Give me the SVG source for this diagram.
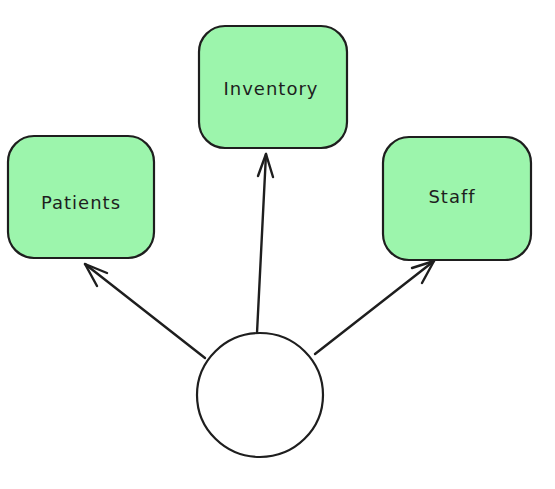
<svg xmlns="http://www.w3.org/2000/svg" width="555" height="489" viewBox="0 0 555 489">
<defs>
<style>
.box{fill:#9cf5ac;stroke:#1e1e1e;stroke-width:2.2}
.lbl{font-family:"Comic Sans MS","DejaVu Sans",sans-serif;font-size:18px;letter-spacing:1px;fill:#1e1e1e;text-anchor:middle;dominant-baseline:central}
.edge{stroke:#1e1e1e;stroke-width:2.4;fill:none;stroke-linecap:round;stroke-linejoin:round}
</style>
</defs>
<rect width="555" height="489" fill="#ffffff"/>
<g id="connectors">
<path class="edge" d="M205 358 L85 264"/>
<path class="edge" d="M107 273 L85 264 L97 286"/>
<path class="edge" d="M257 333 L266 154"/>
<path class="edge" d="M258 176 L266 154 L273 177"/>
<path class="edge" d="M315 354 L434 261"/>
<path class="edge" d="M412 268 L434 261 L422 283"/>
</g>
<g id="patients">
<rect class="box" x="8" y="136" width="146" height="122" rx="26"/>
<text class="lbl" x="81" y="202">Patients</text>
</g>
<g id="inventory">
<rect class="box" x="199" y="26" width="148" height="122" rx="26"/>
<text class="lbl" x="271" y="88">Inventory</text>
</g>
<g id="staff">
<rect class="box" x="383" y="137" width="148" height="123" rx="26"/>
<text class="lbl" x="452" y="196">Staff</text>
</g>
<g id="center">
<ellipse cx="260" cy="395" rx="63" ry="62" fill="#ffffff" stroke="#1e1e1e" stroke-width="2.2"/>
</g>
</svg>
